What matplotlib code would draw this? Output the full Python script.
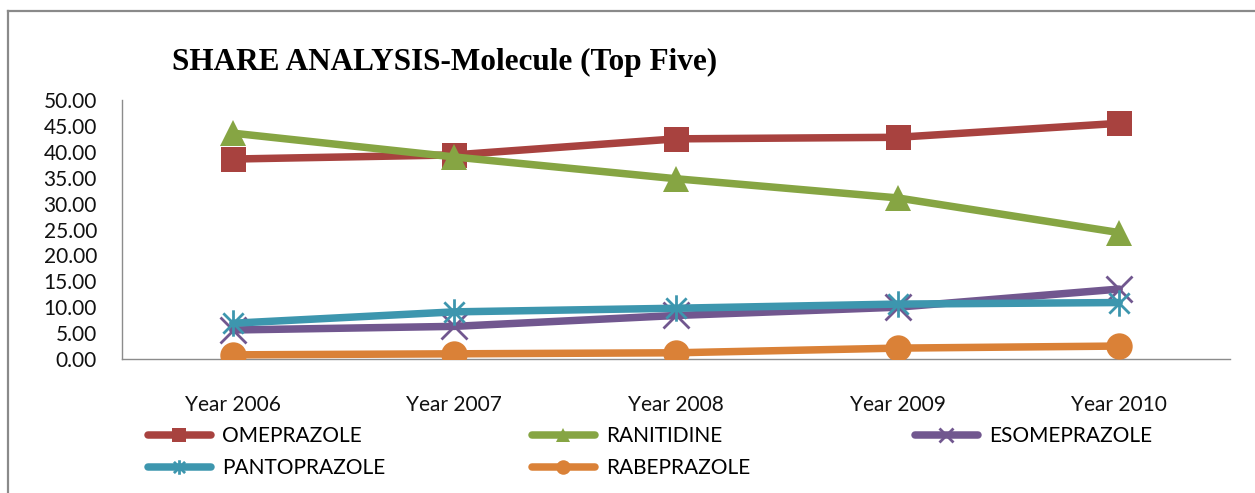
import matplotlib
matplotlib.use("Agg")
import matplotlib.pyplot as plt
from matplotlib.path import Path
from matplotlib.lines import Line2D

years = ["Year 2006", "Year 2007", "Year 2008", "Year 2009", "Year 2010"]
omeprazole = [38.6, 39.4, 42.5, 42.8, 45.5]
ranitidine = [43.6, 39.0, 34.8, 31.1, 24.4]
esomeprazole = [5.6, 6.3, 8.4, 10.0, 13.5]
pantoprazole = [6.9, 9.1, 9.8, 10.6, 10.9]
rabeprazole = [0.8, 1.0, 1.2, 2.1, 2.5]
yticks = [0, 5, 10, 15, 20, 25, 30, 35, 40, 45, 50]

series = [
    ("OMEPRAZOLE", omeprazole, "#A8423F", "s"),
    ("RANITIDINE", ranitidine, "#86A543", "^"),
    ("ESOMEPRAZOLE", esomeprazole, "#71578F", "x"),
    ("PANTOPRAZOLE", pantoprazole, "#3D96AE", "star"),
    ("RABEPRAZOLE", rabeprazole, "#DA8137", "o"),
]

star_path = Path(
    [(-1, -1), (1, 1), (-1, 1), (1, -1), (0, -1.3), (0, 1.3)],
    [Path.MOVETO, Path.LINETO, Path.MOVETO, Path.LINETO, Path.MOVETO, Path.LINETO],
)

fig = plt.figure(figsize=(12.55, 4.93), dpi=100)
ax = fig.add_axes([122 / 1255, 1 - 359 / 493, (1230 - 122) / 1255, (359 - 100) / 493])

x = list(range(len(years)))
handles = []
for name, vals, col, mk in series:
    if mk in ("x", "star"):
        marker = star_path if mk == "star" else "x"
        ln, = ax.plot(x, vals, color=col, lw=5.4, marker=marker, markersize=19 if mk == "x" else 19,
                      markeredgewidth=2.0, markeredgecolor=col, markerfacecolor="none",
                      label=name, solid_capstyle="round", zorder=3)
    else:
        ms = {"s": 18, "^": 19, "o": 19}[mk]
        ln, = ax.plot(x, vals, color=col, lw=5.4, marker=mk, markersize=ms,
                      markeredgewidth=0, markerfacecolor=col, label=name,
                      solid_capstyle="round", zorder=3)
    handles.append(ln)

ax.set_xlim(-0.5, len(years) - 0.5)
ax.set_ylim(0, 50)
ax.set_yticks(yticks)
ax.set_yticklabels([f"{v:.2f}" for v in yticks])
ax.set_xticks(x)
ax.set_xticklabels(years)
for s in ("top", "right"):
    ax.spines[s].set_visible(False)
for s in ("left", "bottom"):
    ax.spines[s].set_color("#8C8C8C")
    ax.spines[s].set_linewidth(1.0)
ax.tick_params(axis="both", length=0, labelsize=15, colors="#111111")
ax.tick_params(axis="y", pad=18)
ax.tick_params(axis="x", pad=26)
for lab in ax.get_xticklabels() + ax.get_yticklabels():
    lab.set_fontfamily("Lato")

fig.text(172 / 1255, 1 - 62 / 493, "SHARE ANALYSIS-Molecule (Top Five)", fontsize=22.5,
         fontweight="bold", fontfamily="Liberation Serif", va="center", ha="left")

# frame lines (top and left)
fig.add_artist(Line2D([8 / 1255, 8 / 1255], [0, 1 - 11 / 493], color="#8A8A8A", lw=1.6,
                      transform=fig.transFigure))
fig.add_artist(Line2D([8 / 1255, 1], [1 - 11 / 493, 1 - 11 / 493], color="#8A8A8A", lw=1.6,
                      transform=fig.transFigure))

cols = [([handles[0], handles[3]], 148), ([handles[1], handles[4]], 532), ([handles[2]], 915)]
for hs, xpx in cols:
    leg = fig.legend(handles=hs, labels=[h.get_label() for h in hs], loc="upper left",
                     bbox_to_anchor=(xpx / 1255, 1 - 426 / 493), frameon=False,
                     prop={"family": "Lato", "size": 15}, handlelength=3.0,
                     handletextpad=0.55, borderpad=0, borderaxespad=0, labelspacing=0.6,
                     markerscale=0.55)

fig.savefig("out.png", dpi=100)
